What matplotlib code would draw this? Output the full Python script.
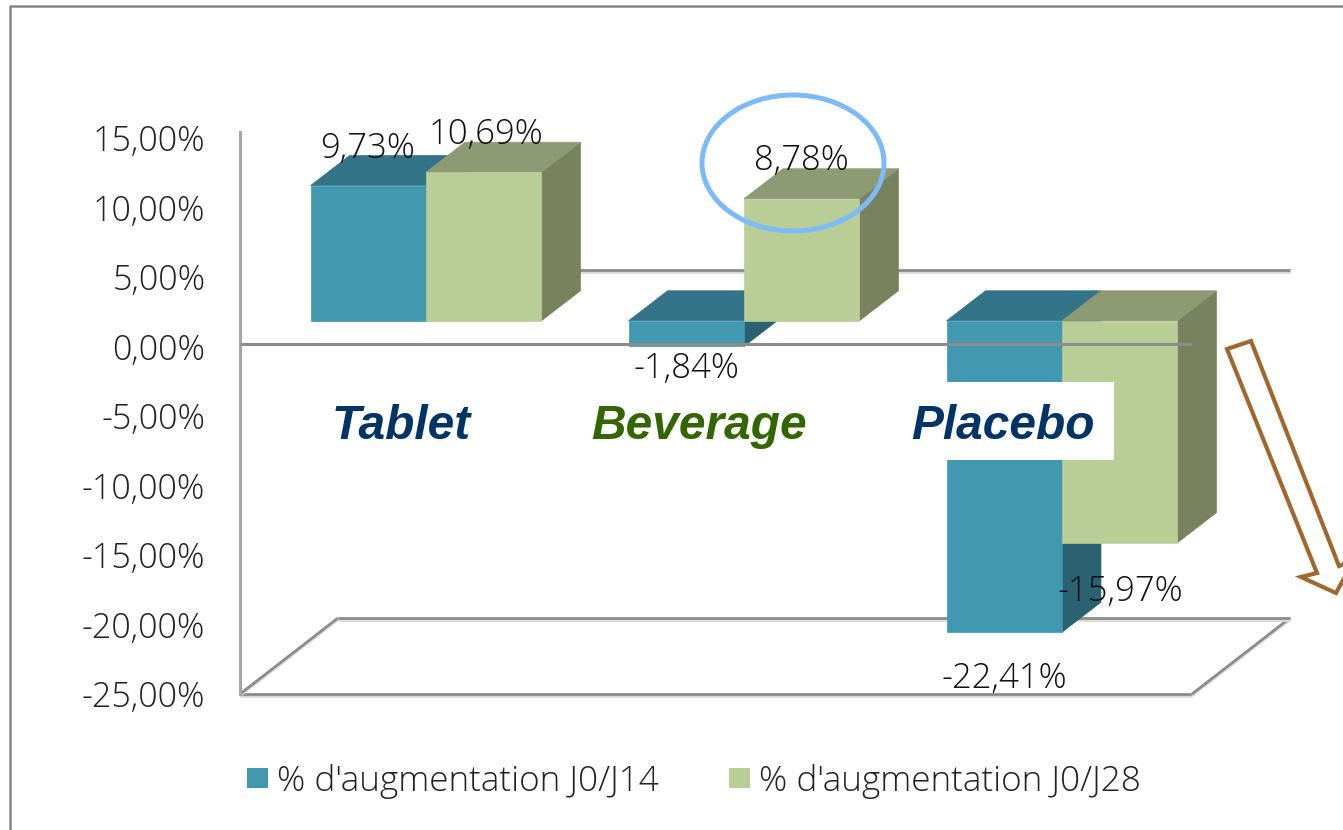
import matplotlib
matplotlib.use("Agg")
import matplotlib.pyplot as plt
from matplotlib.patches import Ellipse, Polygon, Rectangle

# ---------- Data ----------
groups = ["Tablet", "Beverage", "Placebo"]
group_colors = ["#003366", "#336600", "#003366"]
j14 = [9.73, -1.84, -22.41]
j28 = [10.69, 8.78, -15.97]
series_names = ["% d'augmentation J0/J14", "% d'augmentation J0/J28"]
ticks = [15, 10, 5, 0, -5, -10, -15, -20, -25]

# ---------- Layout (pixels of the 1343x830 picture) ----------
W, H = 1343, 830
TEXT = "Open Sans"
BLUE = ("#4198B0", "#337488", "#2B6272")
GREEN = ("#B9CD96", "#8D9A74", "#78825F")
GRID = "#8C8C8C"

fig = plt.figure(figsize=(W / 100, H / 100), dpi=100, facecolor="white")

# axes box = front plane of the 3D chart, its left spine is the wall line
ax = fig.add_axes([240 / W, (H - 694) / H, (1192 - 240) / W, (694 - 138) / H])
ax.set_xlim(-0.585, 2.409)
ax.set_ylim(-25, 15)
ax.patch.set_alpha(0)
for name in ["top", "right", "bottom"]:
    ax.spines[name].set_visible(False)
ax.spines["left"].set_color("#A6A6A6")
ax.spines["left"].set_linewidth(2.2)
ax.spines["left"].set_bounds(-25, 15.4)
ax.set_xticks([])
ax.set_yticks(ticks)
ax.set_yticklabels([f"{t:.2f}%".replace(".", ",") for t in ticks],
                   fontsize=24.6, family=TEXT, weight="light", color="#222222")
ax.tick_params(axis="y", length=0, pad=25)

bar_w = 0.363
dx, dy = 39 / 318, 30 / 13.9   # depth offset of a bar
plane = 1.85                   # bars stand in the middle of the floor depth
back_x, back_y = 98 / 318, 76 / 13.9  # depth of the whole chart


def bar3d(x, value, colors):
    y0 = plane + max(value, 0)
    y1 = plane + min(value, 0)
    x1 = x + bar_w
    style = dict(lw=0.5, clip_on=False, zorder=3)
    ax.add_patch(Polygon([(x1, y0), (x1 + dx, y0 + dy), (x1 + dx, y1 + dy), (x1, y1)],
                         fc=colors[2], ec=colors[2], **style))
    ax.add_patch(Polygon([(x, y0), (x + dx, y0 + dy), (x1 + dx, y0 + dy), (x1, y0)],
                         fc=colors[1], ec=colors[1], **style))
    ax.add_patch(Rectangle((x, y1), bar_w, y0 - y1, fc=colors[0], ec=colors[0], **style))


# ---------- Walls and floor ----------
x_l, x_r = ax.get_xlim()
for xs, ys in [
    ([x_l, x_r], [-25, -25]),
    ([x_l, x_l + back_x], [-25, -25 + back_y]),
    ([x_r, x_r + back_x], [-25, -25 + back_y]),
    ([x_l + back_x, x_r + back_x], [-25 + back_y, -25 + back_y]),
    ([x_l + back_x, x_r + back_x], [back_y, back_y]),
]:
    ys_low = [y - 0.12 for y in ys]
    ax.plot(xs, ys_low, color="#DADADA", lw=2, clip_on=False, zorder=1, solid_capstyle="butt")
    ax.plot(xs, ys, color=GRID, lw=2, clip_on=False, zorder=1, solid_capstyle="butt")

# ---------- Bars ----------
for i in range(len(groups)):
    bar3d(i - bar_w, j14[i], BLUE)
    bar3d(i, j28[i], GREEN)

ax.plot([x_l, x_r], [0.2, 0.2], color=GRID, lw=2.2, clip_on=False, zorder=5,
        solid_capstyle="butt")

# ---------- Overlay in pixels ----------
over = fig.add_axes([0, 0, 1, 1], zorder=10)
over.set_xlim(0, W)
over.set_ylim(H, 0)
over.axis("off")

over.plot([10, 10, W], [H, 6, 6], color="#868686", lw=1.8)

# data labels
label_pos = [(368, 149), (686, 369), (1004, 679), (486, 135), (801, 161), (1120, 592)]
for v, (px, py) in zip(j14 + j28, label_pos):
    over.text(px, py, f"{v:.2f}%".replace(".", ","), ha="center", va="center",
              fontsize=25, family=TEXT, weight="light", color="#111111", zorder=6)

# group names
over.add_patch(Rectangle((945, 382), 169, 78, fc="white", ec="none", zorder=4))
for name, col, px in zip(groups, group_colors, [401, 699, 1003]):
    over.text(px, 426, name, ha="center", va="center", fontsize=34.5, family="Liberation Sans",
              weight="bold", style="italic", color=col, zorder=5)

# circled value and arrow
over.add_patch(Ellipse((793, 163), 182, 136, fc="none", ec="#7CBBF8", lw=3.6, zorder=5))
arrow = [(1227, 349), (1251, 341), (1339, 566), (1354, 560), (1336, 593),
         (1301, 577), (1317, 573)]
over.add_patch(Polygon(arrow, closed=True, fc="white", ec="#A0682F", lw=3, zorder=5))

# legend
for px, col, name in zip([247, 729], [BLUE[0], GREEN[0]], series_names):
    over.add_patch(Rectangle((px, 768), 21, 20, fc=col, ec="none"))
    over.text(px + 30, 781, name, ha="left", va="center", fontsize=25.3, family=TEXT,
              weight="light", color="#222222")

fig.savefig("out.png", dpi=100)
